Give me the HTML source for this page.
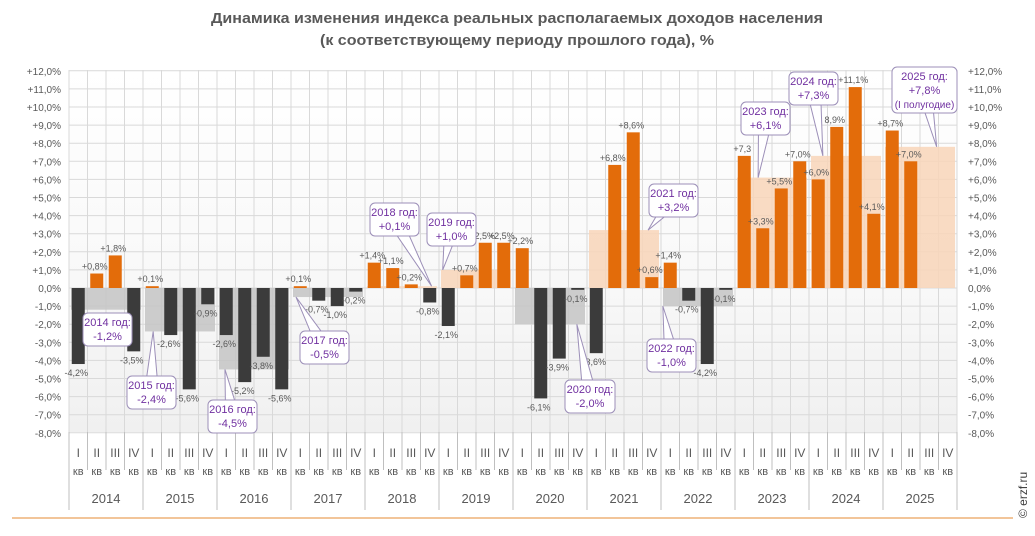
<!DOCTYPE html>
<html><head><meta charset="utf-8">
<style>
html,body{margin:0;padding:0;background:#fff;}
svg{display:block;font-family:"Liberation Sans","DejaVu Sans",sans-serif;}
</style></head>
<body>
<svg id="chart" width="1035" height="536" viewBox="0 0 1035 536" xmlns="http://www.w3.org/2000/svg">
<defs>
<linearGradient id="bg" x1="0" y1="0" x2="0" y2="1">
<stop offset="0" stop-color="#ffffff"/><stop offset="0.6" stop-color="#f8f8f8"/><stop offset="1" stop-color="#f0f0f0"/>
</linearGradient>
</defs>
<text x="517" y="23" text-anchor="middle" font-size="15" font-weight="bold" fill="#595959" textLength="612" lengthAdjust="spacingAndGlyphs">Динамика изменения индекса реальных располагаемых  доходов населения</text>
<text x="517" y="45" text-anchor="middle" font-size="15" font-weight="bold" fill="#595959" textLength="394" lengthAdjust="spacingAndGlyphs">(к соответствующему  периоду прошлого года), %</text>
<rect x="69" y="70" width="888" height="362" fill="url(#bg)"/>
<g id="grid"></g>
<g id="yearbars"></g>
<g id="bars"></g>
<g id="labels"></g>
<g id="axes"></g>
<g id="callouts"></g>
<line x1="12" y1="518" x2="1013" y2="518" stroke="#e9a25c" stroke-width="1.3"/>
<text transform="translate(1027,518) rotate(-90)" font-size="12" fill="#404040">© erzf.ru</text>
</svg>
<script>
const years = ["2014","2015","2016","2017","2018","2019","2020","2021","2022","2023","2024","2025"];
const quarterNames = ["I","II","III","IV"];
const quarterValues = [-4.2,0.8,1.8,-3.5, 0.1,-2.6,-5.6,-0.9, -2.6,-5.2,-3.8,-5.6, 0.1,-0.7,-1.0,-0.2,
 1.4,1.1,0.2,-0.8, -2.1,0.7,2.5,2.5, 2.2,-6.1,-3.9,-0.1, -3.6,6.8,8.6,0.6,
 1.4,-0.7,-4.2,-0.1, 7.3,3.3,5.5,7.0, 6.0,8.9,11.1,4.1, 8.7,7.0,null,null];
const quarterLabels = ["-4,2%","+0,8%","+1,8%","-3,5%","+0,1%","-2,6%","-5,6%","-0,9%","-2,6%","-5,2%","-3,8%","-5,6%","+0,1%","-0,7%","-1,0%","-0,2%",
 "+1,4%","+1,1%","+0,2%","-0,8%","-2,1%","+0,7%","-2,5%","+2,5%","+2,2%","-6,1%","-3,9%","-0,1%","-3,6%","+6,8%","+8,6%","+0,6%",
 "+1,4%","-0,7%","-4,2%","-0,1%","+7,3","+3,3%","+5,5%","+7,0%","+6,0%","8,9%","+11,1%","+4,1%","+8,7%","+7,0%","",""];
const annualValues = [-1.2,-2.4,-4.5,-0.5,0.1,1.0,-2.0,3.2,-1.0,6.1,7.3,7.8];
const annualLabels = [["2014 год:","-1,2%"],["2015 год:","-2,4%"],["2016 год:","-4,5%"],["2017 год:","-0,5%"],["2018 год:","+0,1%"],["2019 год:","+1,0%"],["2020 год:","-2,0%"],["2021 год:","+3,2%"],["2022 год:","-1,0%"],["2023 год:","+6,1%"],["2024 год:","+7,3%"],["2025 год:","+7,8%","(I полугодие)"]];
const yTicks = [12,11,10,9,8,7,6,5,4,3,2,1,0,-1,-2,-3,-4,-5,-6,-7,-8];

const NS="http://www.w3.org/2000/svg";
const X0=69, SLOT=18.5, Y0=288, PX=18.1;
const yS=v=>Y0-v*PX;
const xS=i=>X0+i*SLOT;
function mk(tag,attrs,parent,txt){const e=document.createElementNS(NS,tag);for(const k in attrs)e.setAttribute(k,attrs[k]);if(txt!==undefined)e.textContent=txt;document.getElementById(parent).appendChild(e);return e;}
function fmtTick(v){return (v>0?"+":"")+v.toFixed(1).replace(".",",")+"%";}

yTicks.forEach(v=>{
  const l=mk("line",{x1:X0,x2:X0+48*SLOT,y1:yS(v),y2:yS(v),stroke:"#d9d9d9","stroke-width":1},"grid");
  
  
  const t1=mk("text",{x:61,y:yS(v)+4,"text-anchor":"end","font-size":10,fill:"#595959"},"axes",fmtTick(v));
  
  
  const t2=mk("text",{x:968,y:yS(v)+4,"font-size":10,fill:"#595959"},"axes",fmtTick(v));
  
  
});
for(let i=0;i<=48;i++){
  const g=mk("line",{x1:xS(i),x2:xS(i),y1:70,y2:432,stroke:"#d9d9d9","stroke-width":1},"grid");
  
  
  const big=(i%4===0);
  const s=mk("line",{x1:xS(i),x2:xS(i),y1:432,y2:big?510:470,stroke:"#bfbfbf","stroke-width":1},"axes");
  
  
}
annualValues.forEach((v,y)=>{
  const x=xS(y*4)+2, w=4*SLOT-4;
  const r=mk("rect",{x:x,y:Math.min(yS(v),Y0),width:w,height:Math.abs(yS(v)-Y0),fill:v>=0?"#f8d5b8":"#c4c4c4","fill-opacity":0.85},"yearbars");
  
  
});
quarterValues.forEach((v,i)=>{
  const cx=xS(i)+SLOT/2;
  if(v!==null){
    const r=mk("rect",{x:cx-6.5,y:Math.min(yS(v),Y0),width:13,height:Math.max(1.5,Math.abs(yS(v)-Y0)),fill:v>=0?"#e36c0a":"#3b3b3b"},"bars");
    
    
    const ly=v>=0?yS(v)-4:yS(v)+12;
    const t=mk("text",{x:cx-2,y:ly,"text-anchor":"middle","font-size":9,fill:"#595959"},"labels",quarterLabels[i]);
    
    
  }
  const q=mk("text",{x:cx,y:457,"text-anchor":"middle","font-size":12,fill:"#595959"},"axes",quarterNames[i%4]);
  
  
  const k=mk("text",{x:cx,y:475,"text-anchor":"middle","font-size":11,fill:"#595959"},"axes","кв");
  
  
});
years.forEach((y,j)=>{
  const t=mk("text",{x:xS(j*4)+2*SLOT,y:503,"text-anchor":"middle","font-size":13,fill:"#595959"},"axes",y);
  
  
});
const boxes=[[83,313,49,33],[127,376,49,33],[208,400,49,33],[300,331,49,33],[370,203,49,33],[427,213,49,33],[565,380,50,33],[649,184,49,33],[647,339,49,33],[741,102,49,33],[789,72,49,33],[892,67,65,46]];
const tipOff=[0.5,0.55,0.43,0.27,3.6,0.2,3.45,3.3,0.1,1.25,0.75,2.9];
annualValues.forEach((v,j)=>{
  const [bx,by,bw,bh]=boxes[j];
  const tx=xS(j*4)+tipOff[j]*SLOT, ty=yS(v);
  const g=document.createElementNS(NS,"g");
  
  
  document.getElementById("callouts").appendChild(g);
  const cx=bx+bw/2, cy=by+bh/2;
  const p=document.createElementNS(NS,"polygon");
  const dx=tx-cx, dy=ty-cy; const ang=Math.atan2(dy,dx)+Math.PI/2;
  p.setAttribute("points",`${cx+7*Math.cos(ang)},${cy+7*Math.sin(ang)} ${cx-7*Math.cos(ang)},${cy-7*Math.sin(ang)} ${tx},${ty}`);
  p.setAttribute("fill","#fff");p.setAttribute("stroke","#9c8fb8");p.setAttribute("stroke-width","1");
  g.appendChild(p);
  if(j===0)p.setAttribute("visibility","hidden");
  const r=document.createElementNS(NS,"rect");
  [["x",bx],["y",by],["width",bw],["height",bh],["rx",5],["fill","#fff"],["stroke","#9c8fb8"],["stroke-width",1]].forEach(a=>r.setAttribute(a[0],a[1]));
  g.appendChild(r);
  annualLabels[j].forEach((line,li)=>{
    const t=document.createElementNS(NS,"text");
    t.setAttribute("x",cx);t.setAttribute("y",by+13+li*14);t.setAttribute("text-anchor","middle");
    t.setAttribute("font-size",li===2?10:11);t.setAttribute("fill","#7030a0");
    t.textContent=line;
    
    
    g.appendChild(t);
  });
});
</script>
</body></html>
